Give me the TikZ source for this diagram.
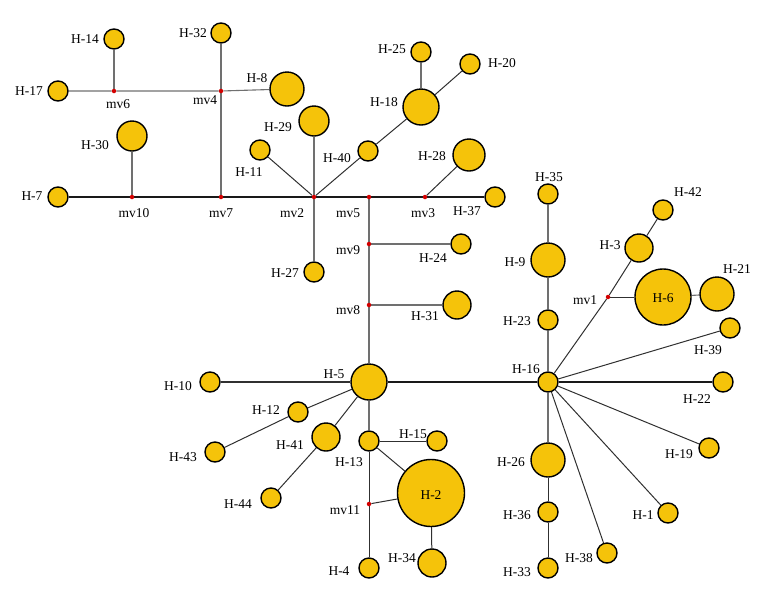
\documentclass[tikz,border=0pt]{standalone}
\usepackage{fontspec}
\setmainfont{Liberation Serif}
\usetikzlibrary{backgrounds}
\definecolor{hapfill}{HTML}{F5C30A}
\definecolor{mvred}{HTML}{D40000}
\definecolor{lgray}{HTML}{707070}
\definecolor{dgray}{HTML}{303030}
\tikzset{
  hap/.style={circle, draw=black, line width=1.4pt, fill=hapfill, minimum size=#1, inner sep=0pt},
  mvdot/.style={circle, fill=mvred, minimum size=4.5pt, inner sep=0pt},
  lbl/.style={inner sep=0pt, font=\fontsize{13.5}{15}\selectfont},
  thick line/.style={draw=black!90, line width=2.4pt},
  gline/.style={draw=lgray, line width=1.1pt},
  dline/.style={draw=dgray, line width=1pt},
  mline/.style={draw=dgray, line width=1.8pt},
}
\begin{document}
\begin{tikzpicture}[x=1pt,y=-1pt]
\useasboundingbox (0,0) rectangle (761,590);
% haplotypes
\node[hap=20pt] (H14) at (114,39) {};
\node[hap=20pt] (H32) at (221,33) {};
\node[hap=20pt] (H17) at (58,91) {};
\node[hap=34pt] (H8) at (287,89) {};
\node[hap=30pt] (H30) at (132,136) {};
\node[hap=30pt] (H29) at (314,121) {};
\node[hap=20pt] (H11) at (260,150) {};
\node[hap=20pt] (H40) at (368,151) {};
\node[hap=20pt] (H7) at (58,197) {};
\node[hap=20pt] (H25) at (421,52) {};
\node[hap=20pt] (H20) at (470,64) {};
\node[hap=36pt] (H18) at (421,107) {};
\node[hap=32pt] (H28) at (469,155) {};
\node[hap=20pt] (H37) at (495,197) {};
\node[hap=20pt] (H27) at (314,272) {};
\node[hap=20pt] (H24) at (461,244) {};
\node[hap=28pt] (H31) at (457,305) {};
\node[hap=20pt] (H35) at (548,194) {};
\node[hap=34pt] (H9) at (548,260) {};
\node[hap=20pt] (H23) at (548,320) {};
\node[hap=20pt] (H42) at (663,210) {};
\node[hap=28pt] (H3) at (639,248) {};
\node[hap=56pt] (H6) at (663,297) {};
\node[hap=34pt] (H21) at (717,294) {};
\node[hap=20pt] (H39) at (730,328) {};
\node[hap=20pt] (H16) at (548,382) {};
\node[hap=20pt] (H22) at (723,382) {};
\node[hap=20pt] (H19) at (709,448) {};
\node[hap=34pt] (H26) at (548,460) {};
\node[hap=20pt] (H36) at (548,512) {};
\node[hap=20pt] (H1) at (668,513) {};
\node[hap=20pt] (H38) at (607,553) {};
\node[hap=20pt] (H33) at (548,568) {};
\node[hap=36pt] (H5) at (369,382) {};
\node[hap=20pt] (H10) at (210,382) {};
\node[hap=20pt] (H12) at (298,412) {};
\node[hap=20pt] (H43) at (215,452) {};
\node[hap=28pt] (H41) at (326,437) {};
\node[hap=20pt] (H44) at (271,498) {};
\node[hap=20pt] (H13) at (369,441) {};
\node[hap=20pt] (H15) at (437,441) {};
\node[hap=67pt] (H2) at (431,493) {};
\node[hap=28pt] (H34) at (432,563) {};
\node[hap=20pt] (H4) at (369,568) {};
% median vectors
\node[mvdot] (mv6) at (114,91) {};
\node[mvdot] (mv4) at (221,91) {};
\node[mvdot] (mv10) at (132,197) {};
\node[mvdot] (mv7) at (221,197) {};
\node[mvdot] (mv2) at (314,197) {};
\node[mvdot] (mv5) at (369,197) {};
\node[mvdot] (mv3) at (425,197) {};
\node[mvdot] (mv9) at (369,244) {};
\node[mvdot] (mv8) at (369,305) {};
\node[mvdot] (mv1) at (608,297) {};
\node[mvdot] (mv11) at (369,504) {};
% labels
\node[lbl] (lH14) at (85,39) {H-14};
\node[lbl] (lH32) at (193,33) {H-32};
\node[lbl] (lH17) at (29,91) {H-17};
\node[lbl] (lmv6) at (118,104) {mv6};
\node[lbl] (lmv4) at (205,100) {mv4};
\node[lbl] (lH8) at (257,78) {H-8};
\node[lbl] (lH29) at (278,127) {H-29};
\node[lbl] (lH30) at (95,145) {H-30};
\node[lbl] (lH11) at (249,172) {H-11};
\node[lbl] (lH40) at (337,158) {H-40};
\node[lbl] (lH7) at (32,196) {H-7};
\node[lbl] (lmv10) at (134,213) {mv10};
\node[lbl] (lmv7) at (221,213) {mv7};
\node[lbl] (lmv2) at (292,213) {mv2};
\node[lbl] (lmv5) at (348,213) {mv5};
\node[lbl] (lmv3) at (423,213) {mv3};
\node[lbl] (lH25) at (392,49) {H-25};
\node[lbl] (lH20) at (502,63) {H-20};
\node[lbl] (lH18) at (384,102) {H-18};
\node[lbl] (lH28) at (432,156) {H-28};
\node[lbl] (lH37) at (467,211) {H-37};
\node[lbl] (lmv9) at (348,250) {mv9};
\node[lbl] (lH24) at (433,258) {H-24};
\node[lbl] (lmv8) at (348,310) {mv8};
\node[lbl] (lH31) at (425,316) {H-31};
\node[lbl] (lH27) at (285,273) {H-27};
\node[lbl] (lH35) at (549,177) {H-35};
\node[lbl] (lH9) at (515,262) {H-9};
\node[lbl] (lH23) at (517,321) {H-23};
\node[lbl] (lH16) at (526,369) {H-16};
\node[lbl] (lH42) at (688,192) {H-42};
\node[lbl] (lH3) at (610,245) {H-3};
\node[lbl] (lmv1) at (585,300) {mv1};
\node[lbl] (lH6) at (663,298) {H-6};
\node[lbl] (lH21) at (737,269) {H-21};
\node[lbl] (lH39) at (708,350) {H-39};
\node[lbl] (lH22) at (697,399) {H-22};
\node[lbl] (lH19) at (679,454) {H-19};
\node[lbl] (lH26) at (511,462) {H-26};
\node[lbl] (lH36) at (517,515) {H-36};
\node[lbl] (lH1) at (643,515) {H-1};
\node[lbl] (lH38) at (579,558) {H-38};
\node[lbl] (lH33) at (517,572) {H-33};
\node[lbl] (lH10) at (178,386) {H-10};
\node[lbl] (lH5) at (334,374) {H-5};
\node[lbl] (lH12) at (266,410) {H-12};
\node[lbl] (lH43) at (183,457) {H-43};
\node[lbl] (lH41) at (290,445) {H-41};
\node[lbl] (lH44) at (238,504) {H-44};
\node[lbl] (lH13) at (349,462) {H-13};
\node[lbl] (lH15) at (413,434) {H-15};
\node[lbl] (lH2) at (431,495) {H-2};
\node[lbl] (lmv11) at (345,510) {mv11};
\node[lbl] (lH34) at (402,558) {H-34};
\node[lbl] (lH4) at (339,571) {H-4};
% connectors
\begin{pgfonlayer}{background}
\draw[thick line] (H7) -- (mv10) -- (mv7) -- (mv2) -- (mv5) -- (mv3) -- (H37);
\draw[thick line] (H5) -- (H16) -- (H22);
\draw[mline] (H10) -- (H5);
\draw[gline] (H17) -- (mv6) -- (mv4) -- (H8);
\draw[gline] (H14) -- (mv6);
\draw[gline] (H32) -- (mv4) -- (mv7);
\draw[gline] (H30) -- (mv10);
\draw[dline] (mv2) -- (H11);
\draw[gline] (mv2) -- (H29);
\draw[dline] (mv2) -- (H40);
\draw[gline] (mv2) -- (H27);
\draw[dline] (H40) -- (H18);
\draw[gline] (H18) -- (H25);
\draw[dline] (H18) -- (H20);
\draw[dline] (mv3) -- (H28);
\draw[gline] (mv5) -- (mv9) -- (mv8) -- (H5);
\draw[gline] (mv9) -- (H24);
\draw[gline] (mv8) -- (H31);
\draw[dline] (H5) -- (H12) -- (H43);
\draw[dline] (H5) -- (H41) -- (H44);
\draw[gline] (H5) -- (H13);
\draw[dline] (H13) -- (H15);
\draw[dline] (H13) -- (H2);
\draw[dline] (H13) -- (mv11) -- (H4);
\draw[dline] (mv11) -- (H2);
\draw[dline] (H2) -- (H34);
\draw[gline] (H16) -- (H23) -- (H9) -- (H35);
\draw[dline] (H16) -- (mv1) -- (H3) -- (H42);
\draw[dline] (mv1) -- (H6);
\draw[gline] (H6) -- (H21);
\draw[dline] (H16) -- (H39);
\draw[dline] (H16) -- (H19);
\draw[dline] (H16) -- (H1);
\draw[dline] (H16) -- (H38);
\draw[gline] (H16) -- (H26);
\draw[dline] (H26) -- (H36) -- (H33);
\end{pgfonlayer}
\end{tikzpicture}
\end{document}
